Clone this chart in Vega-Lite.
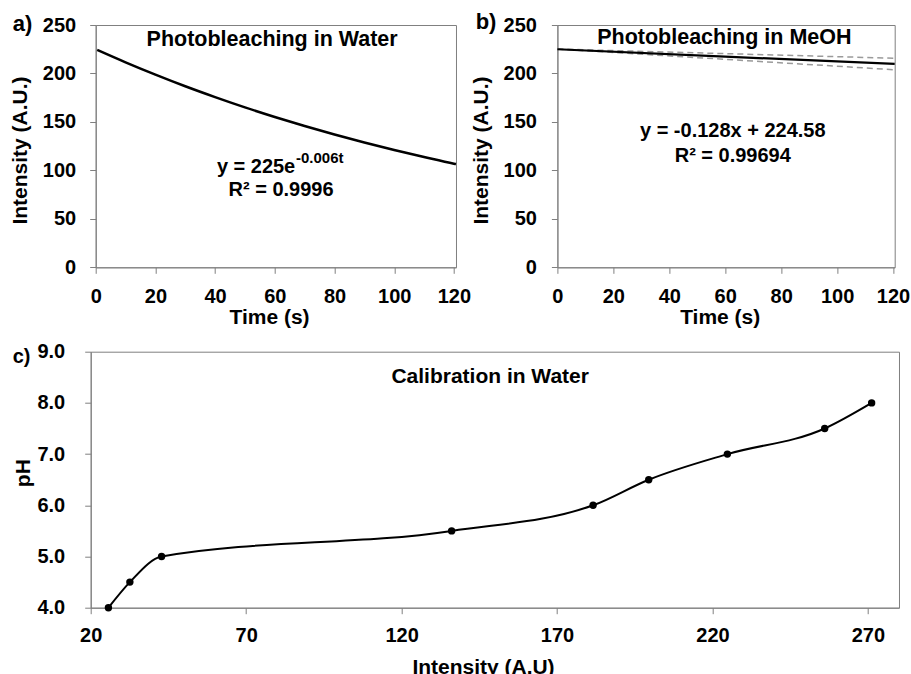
{
  "$schema": "https://vega.github.io/schema/vega-lite/v6.json",
  "background": "white",
  "padding": {"left": 8.7, "top": 10, "right": 0, "bottom": 0},
  "config": {
    "view": {"stroke": "#808080", "strokeWidth": 1, "fill": "white"},
    "font": "Liberation Sans",
    "axis": {
      "grid": false,
      "domainColor": "#808080",
      "tickColor": "#808080",
      "tickSize": 6,
      "labelFont": "Liberation Sans",
      "labelFontWeight": "bold",
      "labelFontSize": 20,
      "labelColor": "black",
      "labelOverlap": false,
      "labelFlush": false,
      "titleFont": "Liberation Sans",
      "titleFontWeight": "bold",
      "titleFontSize": 21,
      "titleColor": "black"
    },
    "title": {"font": "Liberation Sans", "fontWeight": "bold", "color": "black"}
  },
  "spacing": 12.7,
  "vconcat": [
    {
      "hconcat": [
        {
          "width": 1,
          "height": 1,
          "view": {"stroke": null, "fill": null},
          "data": {"values": []},
          "mark": {"type": "point", "opacity": 0},
          "encoding": {}
        },
        {
          "hconcat": [
            {
              "width": 360.3,
              "height": 242.3,
              "title": {"text": "a)", "anchor": "start", "frame": "group", "dx": -83, "dy": 32, "offset": -6, "baseline": "alphabetic", "fontSize": 22},
              "layer": [
                {
                  "data": {"values": [
                    {"t": 0.5, "v": 224.3}, {"t": 10, "v": 211.5}, {"t": 20, "v": 198.8}, {"t": 30, "v": 186.8},
                    {"t": 40, "v": 175.6}, {"t": 50, "v": 165.0}, {"t": 60, "v": 155.1}, {"t": 70, "v": 145.8},
                    {"t": 80, "v": 137.0}, {"t": 90, "v": 128.8}, {"t": 100, "v": 121.1}, {"t": 110, "v": 113.8},
                    {"t": 120, "v": 106.9}, {"t": 120.7, "v": 106.5}
                  ]},
                  "mark": {"type": "line", "color": "black", "strokeWidth": 2.5, "interpolate": "monotone"},
                  "encoding": {
                    "x": {"field": "t", "type": "quantitative", "scale": {"domain": [0, 120.7], "nice": false},
                      "axis": {"values": [0, 20, 40, 60, 80, 100, 120], "title": "Time (s)", "labelPadding": 13, "titleX": 173.3, "titleY": 56, "titleBaseline": "alphabetic"}},
                    "y": {"field": "v", "type": "quantitative", "scale": {"domain": [0, 250], "nice": false},
                      "axis": {"values": [0, 50, 100, 150, 200, 250], "title": "Intensity (A.U.)", "labelPadding": 14, "titleX": -74.7, "titleY": 125, "titleBaseline": "middle"}}
                  }
                },
                {
                  "data": {"values": [{"t": 59.1, "v": 228.6, "label": "Photobleaching in Water"}]},
                  "mark": {"type": "text", "align": "center", "baseline": "alphabetic", "fontSize": 21.5, "fontWeight": "bold", "color": "black"},
                  "encoding": {"x": {"field": "t", "type": "quantitative"}, "y": {"field": "v", "type": "quantitative"}, "text": {"field": "label"}}
                },
                {
                  "data": {"values": [{"t": 40.6, "v": 97.6, "label": "y = 225e"}]},
                  "mark": {"type": "text", "align": "left", "baseline": "alphabetic", "fontSize": 20, "fontWeight": "bold", "color": "black"},
                  "encoding": {"x": {"field": "t", "type": "quantitative"}, "y": {"field": "v", "type": "quantitative"}, "text": {"field": "label"}}
                },
                {
                  "data": {"values": [{"t": 67.1, "v": 107.4, "label": "-0.006t"}]},
                  "mark": {"type": "text", "align": "left", "baseline": "alphabetic", "fontSize": 15, "fontWeight": "bold", "color": "black"},
                  "encoding": {"x": {"field": "t", "type": "quantitative"}, "y": {"field": "v", "type": "quantitative"}, "text": {"field": "label"}}
                },
                {
                  "data": {"values": [{"t": 62.1, "v": 73.9, "label": "R² = 0.9996"}]},
                  "mark": {"type": "text", "align": "center", "baseline": "alphabetic", "fontSize": 20, "fontWeight": "bold", "color": "black"},
                  "encoding": {"x": {"field": "t", "type": "quantitative"}, "y": {"field": "v", "type": "quantitative"}, "text": {"field": "label"}}
                }
              ]
            },
            {
              "width": 337.3,
              "height": 242.3,
              "title": {"text": "b)", "anchor": "start", "frame": "group", "dx": -81.7, "dy": 34, "offset": -2, "baseline": "alphabetic", "fontSize": 22},
              "layer": [
                {
                  "data": {"values": [
                    {"t": 0, "v": 225.2, "bound": "upper"}, {"t": 120.6, "v": 215.7, "bound": "upper"},
                    {"t": 0, "v": 225.2, "bound": "lower"}, {"t": 120.6, "v": 203.8, "bound": "lower"}
                  ]},
                  "mark": {"type": "line", "color": "#9a9a9a", "strokeWidth": 1.5, "strokeDash": [6, 4]},
                  "encoding": {
                    "x": {"field": "t", "type": "quantitative", "scale": {"domain": [0, 120.6], "nice": false},
                      "axis": {"values": [0, 20, 40, 60, 80, 100, 120], "title": "Time (s)", "labelPadding": 13, "titleX": 162.3, "titleY": 56, "titleBaseline": "alphabetic"}},
                    "y": {"field": "v", "type": "quantitative", "scale": {"domain": [0, 250], "nice": false},
                      "axis": {"values": [0, 50, 100, 150, 200, 250], "title": "Intensity (A.U.)", "labelPadding": 15, "titleX": -75.7, "titleY": 125, "titleBaseline": "middle"}},
                    "detail": {"field": "bound"}
                  }
                },
                {
                  "data": {"values": [{"t": 0, "v": 225.0}, {"t": 60, "v": 217.4}, {"t": 120.6, "v": 209.8}]},
                  "mark": {"type": "line", "color": "black", "strokeWidth": 2.2},
                  "encoding": {"x": {"field": "t", "type": "quantitative"}, "y": {"field": "v", "type": "quantitative"}}
                },
                {
                  "data": {"values": [{"t": 59.7, "v": 230.4, "label": "Photobleaching in MeOH"}]},
                  "mark": {"type": "text", "align": "center", "baseline": "alphabetic", "fontSize": 21.5, "fontWeight": "bold", "color": "black"},
                  "encoding": {"x": {"field": "t", "type": "quantitative"}, "y": {"field": "v", "type": "quantitative"}, "text": {"field": "label"}}
                },
                {
                  "data": {"values": [{"t": 62.7, "v": 134.6, "label": "y = -0.128x + 224.58"}, {"t": 62.7, "v": 108.8, "label": "R² = 0.99694"}]},
                  "mark": {"type": "text", "align": "center", "baseline": "alphabetic", "fontSize": 20, "fontWeight": "bold", "color": "black"},
                  "encoding": {"x": {"field": "t", "type": "quantitative"}, "y": {"field": "v", "type": "quantitative"}, "text": {"field": "label"}}
                }
              ]
            }
          ],
          "spacing": 100.7,
          "bounds": "flush"
        }
      ],
      "spacing": 4,
      "bounds": "flush"
    },
    {
      "width": 808.3,
      "height": 256,
      "title": {"text": "c)", "anchor": "start", "frame": "group", "dx": -78, "dy": 30, "offset": -11, "baseline": "alphabetic", "fontSize": 20},
      "layer": [
        {
          "data": {"name": "calib", "values": [
            {"intensity": 25.7, "pH": 4.0}, {"intensity": 32.6, "pH": 4.5}, {"intensity": 42.8, "pH": 5.0},
            {"intensity": 136.1, "pH": 5.5}, {"intensity": 181.6, "pH": 6.0}, {"intensity": 199.5, "pH": 6.5},
            {"intensity": 224.8, "pH": 7.0}, {"intensity": 256.1, "pH": 7.5}, {"intensity": 271.2, "pH": 8.0}
          ]},
          "layer": [
            {
              "mark": {"type": "line", "color": "black", "strokeWidth": 2, "interpolate": "monotone"},
              "encoding": {
                "x": {"field": "intensity", "type": "quantitative", "scale": {"domain": [20, 280], "nice": false},
                  "axis": {"values": [20, 70, 120, 170, 220, 270], "title": "Intensity (A.U)", "labelPadding": 12, "titleX": 392.3, "titleY": 66.3, "titleBaseline": "alphabetic"}},
                "y": {"field": "pH", "type": "quantitative", "scale": {"domain": [4, 9], "nice": false, "zero": false},
                  "axis": {"values": [4, 5, 6, 7, 8, 9], "format": ".1f", "title": "pH", "labelPadding": 20, "titleX": -66.7, "titleY": 121, "titleBaseline": "middle"}}
              }
            },
            {
              "mark": {"type": "point", "filled": true, "color": "black", "size": 55, "opacity": 1},
              "encoding": {"x": {"field": "intensity", "type": "quantitative"}, "y": {"field": "pH", "type": "quantitative"}}
            }
          ]
        },
        {
          "data": {"values": [{"intensity": 148.5, "pH": 8.395, "label": "Calibration in Water"}]},
          "mark": {"type": "text", "align": "center", "baseline": "alphabetic", "fontSize": 21, "fontWeight": "bold", "color": "black"},
          "encoding": {"x": {"field": "intensity", "type": "quantitative"}, "y": {"field": "pH", "type": "quantitative"}, "text": {"field": "label"}}
        }
      ]
    }
  ]
}
